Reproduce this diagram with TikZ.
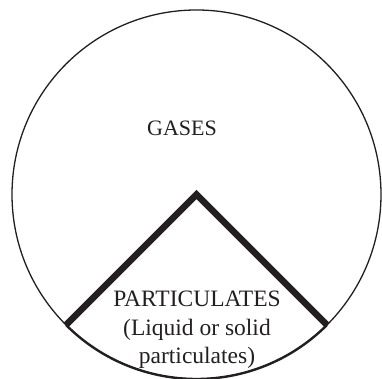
\documentclass[tikz,border=0pt]{standalone}
\usepackage{fontspec}
\setmainfont{Liberation Serif}
\definecolor{inkgray}{RGB}{35,31,32}
\usetikzlibrary{calc, positioning}

\begin{document}
\begin{tikzpicture}[
    x=1pt, y=1pt,
    label text/.style={draw=none, text=inkgray, inner sep=0pt, align=center,
      font=\fontsize{22}{28}\selectfont},
    outline/.style={draw=inkgray, line width=1.3pt},
    wedge/.style={draw=inkgray, line width=6.5pt, line join=miter},
  ]
    \useasboundingbox (0,0) rectangle (382,379);
    \coordinate (c) at (196.5,184.5);
    \coordinate (wl) at ($(c)+(225:184.5)$);
    \coordinate (wr) at ($(c)+(315:184.5)$);
    % outer circle and heavier base arc
    \draw[outline] (c) circle[radius=184.5];
    \draw[outline, line width=2.4pt] (wl) arc[start angle=225, end angle=315, radius=184.5];
    % wedge, clipped to circle
    \begin{scope}
      \clip (c) circle[radius=184.5];
      \draw[wedge] ($(c)!1.05!(wl)$) -- (c) -- ($(c)!1.05!(wr)$);
    \end{scope}
    \node[label text] (gases) at (182,251) {GASES};
    \node[label text, font=\fontsize{23.5}{28.5}\selectfont] (part) at (197,49)
      {PARTICULATES\\(Liquid or solid\\particulates)};
  \end{tikzpicture}
\end{document}
